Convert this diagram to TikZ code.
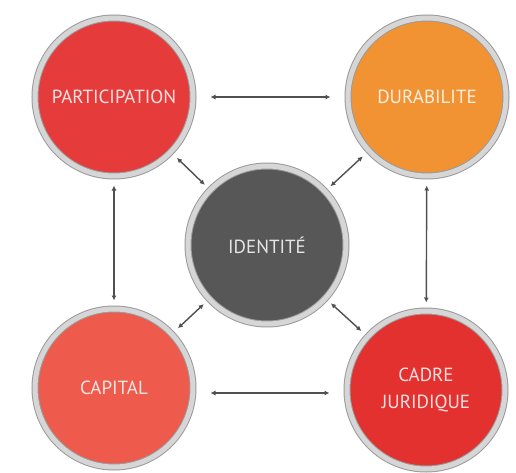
\documentclass[tikz,border=0pt]{standalone}
\usepackage{fontspec}
\setmainfont{PT Sans}
\usetikzlibrary{arrows.meta}
\definecolor{partred}{HTML}{E63B3B}
\definecolor{duraorange}{HTML}{F29333}
\definecolor{idgray}{HTML}{575757}
\definecolor{capred}{HTML}{EE5A4B}
\definecolor{cadrered}{HTML}{E2312F}
\definecolor{ringgray}{HTML}{D6D6D6}
\definecolor{rimgray}{HTML}{9A9A9A}
\definecolor{linkgray}{HTML}{505050}
\tikzset{
  disc/.style={circle, minimum size=158pt, inner sep=0pt, align=center,
    font=\fontsize{19}{23}\selectfont, text=white, text opacity=0.85,
    draw=rimgray, double=ringgray, line width=1pt, double distance=5pt},
  link/.style={draw=linkgray, line width=1.4pt,
    {Latex[length=5pt,width=5pt]}-{Latex[length=5pt,width=5pt]}},
}
\begin{document}
\begin{tikzpicture}[x=1pt,y=-1pt]
\useasboundingbox (0,0) rectangle (516,473);
\path (114, 97) node [disc, fill=partred]    (part)  {PARTICIPATION};
\path (427, 97) node [disc, fill=duraorange] (dura)  {DURABILITE};
\path (267,245) node [disc, fill=idgray]     (ident) {IDENTITÉ};
\path (114,388) node [disc, fill=capred]     (cap)   {CAPITAL};
\path (426,390) node [disc, fill=cadrered]   (cadre) {CADRE\\[4pt]JURIDIQUE};
\draw [link, shorten <=17pt, shorten >=17pt] (part) -- (dura);
\draw [link, shorten <=17pt, shorten >=17pt]
  ([yshift=-5pt]cap.east) -- ([yshift=-3pt]cadre.west);
\draw [link, shorten <=9pt, shorten >=8pt] (part) -- (cap);
\draw [link, shorten <=9pt, shorten >=8pt] (dura) -- (cadre);
\draw [link, shorten <=8pt, shorten >=7pt] (part) -- (ident);
\draw [link, shorten <=8pt, shorten >=7pt] (dura) -- (ident);
\draw [link, shorten <=7pt, shorten >=8pt] (ident) -- (cap);
\draw [link, shorten <=7pt, shorten >=8pt] (ident) -- (cadre);
\end{tikzpicture}
\end{document}
